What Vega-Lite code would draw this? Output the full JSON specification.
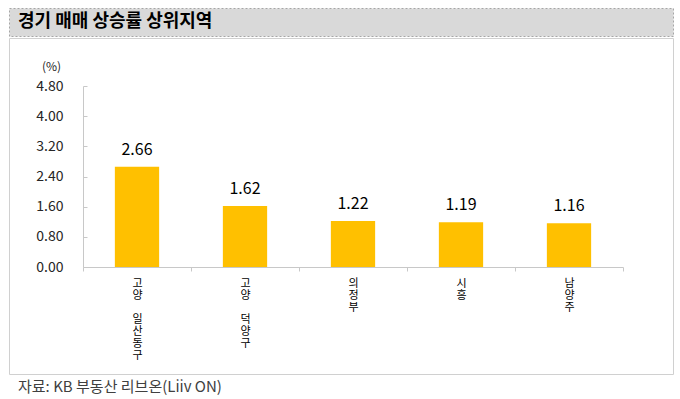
{
  "$schema": "https://vega.github.io/schema/vega-lite/v6.json",
  "padding": {"left": 8, "top": 7, "right": 0, "bottom": 0},
  "background": "white",
  "spacing": 0,
  "config": {"font": "Noto Sans CJK KR", "view": {"stroke": null}},
  "vconcat": [
    {
      "width": 664,
      "height": 28,
      "view": {"fill": "#d9d9d9", "stroke": "#a6a6a6", "strokeDash": [2, 2]},
      "data": {"values": [{"title": "경기 매매 상승률 상위지역"}]},
      "mark": {"type": "text", "align": "left", "baseline": "middle", "dx": 9, "fontSize": 18, "fontWeight": "bold", "color": "#000000"},
      "encoding": {
        "text": {"field": "title"},
        "x": {"datum": 0, "type": "quantitative", "scale": {"domain": [0, 1]}, "axis": null},
        "y": {"datum": 0.5, "type": "quantitative", "scale": {"domain": [0, 1]}, "axis": null}
      }
    },
    {
      "width": 664,
      "height": 336,
      "view": {"fill": "white", "stroke": "#d0d0d0"},
      "title": {"text": "자료: KB 부동산  리브온(Liiv ON)", "orient": "bottom", "anchor": "start", "offset": 6, "dx": 9, "fontSize": 15, "fontWeight": "normal", "color": "#404040"},
      "data": {"values": [
        {"region": "고양 일산동구", "rate": 2.66},
        {"region": "고양 덕양구", "rate": 1.62},
        {"region": "의정부", "rate": 1.22},
        {"region": "시흥", "rate": 1.19},
        {"region": "남양주", "rate": 1.16}
      ]},
      "encoding": {
        "x": {
          "field": "region", "type": "nominal", "sort": null,
          "scale": {"range": [74, 614], "paddingInner": 0, "paddingOuter": 0},
          "axis": {
            "title": null, "orient": "bottom", "offset": -107, "labelAngle": 0,
            "labelExpr": "split(replace(datum.label, ' ', '\u200b'), '')", "labelBaseline": "top",
            "labelLineHeight": 12, "labelFontSize": 11, "labelColor": "#000000",
            "labelPadding": 6, "tickBand": "extent", "tickSize": 4,
            "tickColor": "#c8c8c8", "domainColor": "#c8c8c8", "labelOverlap": false
          }
        },
        "y": {
          "field": "rate", "type": "quantitative",
          "scale": {"domain": [0, 4.8], "range": [229, 48], "nice": false, "zero": true},
          "axis": {
            "title": "(%)", "titleAngle": 0, "titleX": -32, "titleY": 28,
            "titleAlign": "center", "titleBaseline": "middle", "titleFontSize": 12,
            "titleFontWeight": "normal", "titleColor": "#262626",
            "values": [0, 0.8, 1.6, 2.4, 3.2, 4, 4.8], "format": ".2f",
            "offset": -74, "grid": false, "tickSize": -4, "labelPadding": 24,
            "labelFontSize": 14, "labelColor": "#262626",
            "domainColor": "#c8c8c8", "tickColor": "#c8c8c8"
          }
        }
      },
      "layer": [
        {"mark": {"type": "bar", "color": "#FFC000", "width": {"band": 0.41}}},
        {
          "mark": {"type": "text", "baseline": "bottom", "dy": -9, "fontSize": 16, "color": "#000000"},
          "encoding": {"text": {"field": "rate", "format": ".2f"}}
        },
        {
          "data": {"values": [{}]},
          "mark": {"type": "text", "text": "KB 부동산", "align": "left", "baseline": "middle", "dx": -10, "fontSize": 9, "color": "#595959"},
          "encoding": {"x": {"datum": "남양주"}, "y": {"datum": 5.46}}
        },
        {
          "data": {"values": [{}]},
          "mark": {"type": "text", "text": "Liiv", "align": "left", "baseline": "middle", "dx": 32, "fontSize": 17, "fontWeight": "bold", "color": "#F2B705"},
          "encoding": {"x": {"datum": "남양주"}, "y": {"datum": 5.46}}
        },
        {
          "data": {"values": [{}]},
          "mark": {"type": "text", "text": "ON", "align": "left", "baseline": "middle", "dx": 69, "fontSize": 16, "fontWeight": "bold", "color": "#4d4d4d"},
          "encoding": {"x": {"datum": "남양주"}, "y": {"datum": 5.46}}
        }
      ]
    }
  ]
}
